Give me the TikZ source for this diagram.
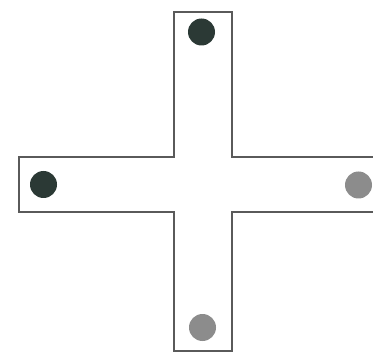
\documentclass[tikz,border=0pt]{standalone}
\definecolor{darkdot}{HTML}{2B3935}
\definecolor{greydot}{HTML}{8C8C8C}
\definecolor{edge}{HTML}{5A5A5A}
\begin{document}
\begin{tikzpicture}[x=1pt,y=-1pt,
  dot/.style={circle,inner sep=0pt,minimum size=27pt},
  darkd/.style={dot,fill=darkdot},
  greyd/.style={dot,fill=greydot},
  crossline/.style={draw=edge,line width=1.4pt,line join=miter}]
\useasboundingbox (0,0) rectangle (373,353);
\fill[white] (0,0) rectangle (373,353);
\draw[crossline] (376,157) -- (232,157) -- (232,12) -- (174,12) -- (174,157)
  -- (19,157) -- (19,212) -- (174,212) -- (174,351) -- (232,351) -- (232,212) -- (376,212);
\node[darkd] (top) at (201.5,32) {};
\node[darkd] (left) at (43.5,184.5) {};
\node[greyd] (right) at (358.5,185) {};
\node[greyd] (bottom) at (202.5,327.5) {};
\end{tikzpicture}
\end{document}
